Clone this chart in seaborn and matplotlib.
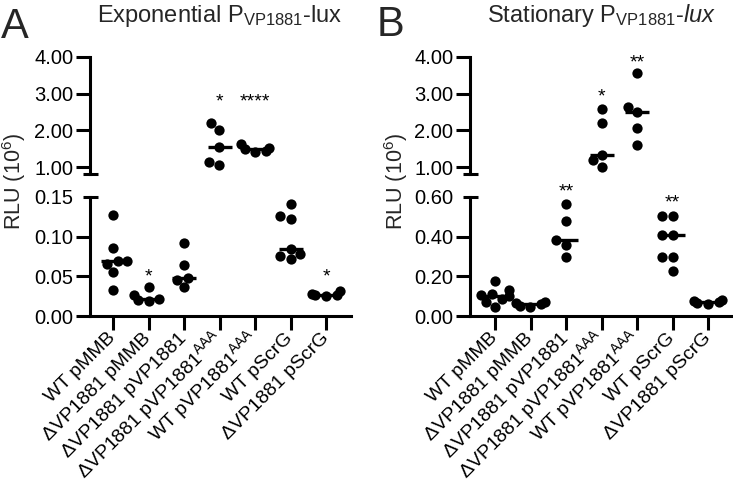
import matplotlib
matplotlib.use("Agg")
import matplotlib.pyplot as plt
import numpy as np
import pandas as pd
import seaborn as sns

# ---------------- data (RLU, units of 10^6) ----------------
categories = ["WT pMMB", "ΔVP1881 pMMB", "ΔVP1881 pVP1881", "ΔVP1881 pVP1881AAA",
              "WT pVP1881AAA", "WT pScrG", "ΔVP1881 pScrG"]
tick_labels = ["WT pMMB", "ΔVP1881 pMMB", "ΔVP1881 pVP1881",
               r"ΔVP1881 pVP1881$^{\mathregular{AAA}}$", r"WT pVP1881$^{\mathregular{AAA}}$",
               "WT pScrG", "ΔVP1881 pScrG"]

# Panel A: exponential phase
exp_wt_pmmb = [0.127, 0.086, 0.069, 0.069, 0.066, 0.055, 0.033]
exp_d_pmmb = [0.036, 0.026, 0.022, 0.020, 0.019]
exp_d_pvp = [0.092, 0.064, 0.048, 0.046, 0.036]
exp_d_paaa = [2.20, 2.02, 1.55, 1.15, 1.06]
exp_wt_paaa = [1.63, 1.52, 1.48, 1.45, 1.41]
exp_wt_pscrg = [0.141, 0.126, 0.122, 0.085, 0.078, 0.076, 0.072]
exp_d_pscrg = [0.031, 0.028, 0.027, 0.026, 0.025]
exp_stars = ["", "*", "", "*", "****", "", "*"]
exp_star_y = [None, 0.049, None, 2.77, 2.77, None, 0.049]

# Panel B: stationary phase
sta_wt_pmmb = [0.175, 0.13, 0.11, 0.105, 0.10, 0.085, 0.07, 0.045]
sta_d_pmmb = [0.07, 0.065, 0.06, 0.05, 0.045]
sta_d_pvp = [0.567, 0.478, 0.382, 0.358, 0.295]
sta_d_paaa = [2.59, 2.21, 1.34, 1.18, 1.00]
sta_wt_paaa = [3.56, 2.64, 2.50, 2.07, 1.61]
sta_wt_pscrg = [0.505, 0.505, 0.41, 0.41, 0.295, 0.295, 0.225]
sta_d_pscrg = [0.08, 0.075, 0.07, 0.065, 0.06]
sta_stars = ["", "", "**", "*", "**", "**", ""]
sta_star_y = [None, None, 0.625, 2.91, 3.84, 0.57, None]

exp_groups = [exp_wt_pmmb, exp_d_pmmb, exp_d_pvp, exp_d_paaa, exp_wt_paaa, exp_wt_pscrg, exp_d_pscrg]
sta_groups = [sta_wt_pmmb, sta_d_pmmb, sta_d_pvp, sta_d_paaa, sta_wt_paaa, sta_wt_pscrg, sta_d_pscrg]

top_ticks = [1.0, 2.0, 3.0, 4.0]
exp_low_ticks = [0.0, 0.05, 0.10, 0.15]
sta_low_ticks = [0.0, 0.20, 0.40, 0.60]


def frame(groups):
    rows = []
    for cat, vals in zip(categories, groups):
        for v in vals:
            rows.append((cat, v))
    return pd.DataFrame(rows, columns=["group", "rlu"])


# ---------------- style ----------------
sns.set_theme(style="ticks")
plt.rcParams["font.family"] = ["Liberation Sans", "DejaVu Sans"]
plt.rcParams["mathtext.fontset"] = "custom"
plt.rcParams["mathtext.rm"] = "Liberation Sans"
plt.rcParams["mathtext.it"] = "Liberation Sans:italic"
plt.rcParams["mathtext.bf"] = "Liberation Sans:bold"
plt.rcParams["axes.unicode_minus"] = False

W, H = 733, 492
fig = plt.figure(figsize=(W / 100, H / 100), dpi=100)
LW = 2.2
TICKLEN = 10


def px_axes(x0, y_top, w, h):
    return fig.add_axes([x0 / W, 1 - (y_top + h) / H, w / W, h / H])


def draw_panel(x0, width, tick0, groups, low_ticks, stars, star_y):
    df = frame(groups)
    low_max = low_ticks[-1]
    df_top = df[df["rlu"] > low_max]
    df_low = df[df["rlu"] <= low_max]
    spacing = 35.5
    xl = -(tick0 - x0) / spacing
    xr = xl + width / spacing

    ax_top = px_axes(x0, 57, width, 117)
    ax_low = px_axes(x0, 197, width, 119)

    for ax, d in ((ax_top, df_top), (ax_low, df_low)):
        sns.swarmplot(data=d, x="group", y="rlu", order=categories, color="black",
                      size=7.4, linewidth=0, ax=ax, zorder=3)
        sns.pointplot(data=d, x="group", y="rlu", order=categories, estimator="median",
                      errorbar=None, color="black", linestyle="none", marker="_",
                      markersize=17, markeredgewidth=2.4, ax=ax, zorder=4)
        ax.set_xlim(xl, xr)
        ax.set_xlabel("")
        ax.set_ylabel("")
        for s in ("top", "right"):
            ax.spines[s].set_visible(False)
        for s in ("left", "bottom"):
            ax.spines[s].set_linewidth(LW)
            ax.spines[s].set_color("black")
        ax.tick_params(axis="both", length=TICKLEN, width=LW, color="black",
                       labelcolor="black", pad=2)
        ax.tick_params(axis="y", labelsize=14.5)
        ax.set_facecolor("none")

    # top (broken) axis
    ax_top.set_ylim(0.81, 4.0)
    ax_top.set_yticks(top_ticks)
    ax_top.set_yticklabels([f"{v:.2f}" for v in top_ticks])
    ax_top.spines["bottom"].set_visible(False)
    ax_top.tick_params(axis="x", bottom=False, labelbottom=False)

    # lower axis
    ax_low.set_ylim(0, low_max)
    ax_low.set_yticks(low_ticks)
    ax_low.set_yticklabels([f"{v:.2f}" for v in low_ticks])
    ax_low.get_yaxis().get_major_ticks()[-1].tick1line.set_visible(False)
    ax_low.set_xticks(range(len(categories)))
    ax_low.set_xticklabels(tick_labels, rotation=45, ha="right", va="center",
                           rotation_mode="anchor", fontsize=14)
    ax_low.tick_params(axis="x", pad=4)

    # break caps
    hw = 7.5 / width
    ax_top.plot([-hw, hw], [0, 0], transform=ax_top.transAxes, color="black",
                lw=LW, clip_on=False, solid_capstyle="butt")
    ax_low.plot([-hw, hw], [1, 1], transform=ax_low.transAxes, color="black",
                lw=LW, clip_on=False, solid_capstyle="butt")

    # significance stars
    for i, (s, y) in enumerate(zip(stars, star_y)):
        if not s:
            continue
        ax = ax_top if y > low_max * 1.5 else ax_low
        ax.text(i, y, s, ha="center", va="center", fontsize=14, color="black",
                clip_on=False)
    return ax_top, ax_low


draw_panel(90, 261, 113, exp_groups, exp_low_ticks, exp_stars, exp_star_y)
draw_panel(470, 262, 495, sta_groups, sta_low_ticks, sta_stars, sta_star_y)

# titles, panel letters, y labels
fig.text(220 / W, 1 - 22 / H, r"Exponential P$_{\mathregular{VP1881}}$-lux",
         ha="center", va="baseline", fontsize=17)
fig.text(602 / W, 1 - 22 / H, r"Stationary P$_{\mathregular{VP1881}}$-$\mathit{lux}$",
         ha="center", va="baseline", fontsize=17)
fig.text(1 / W, 1 - 38 / H, "A", ha="left", va="baseline", fontsize=30)
fig.text(377 / W, 1 - 36 / H, "B", ha="left", va="baseline", fontsize=30)
fig.text(14 / W, 1 - 182 / H, r"RLU (10$^{6}$)", rotation=90, ha="center",
         va="center", fontsize=15.5)
fig.text(396 / W, 1 - 182 / H, r"RLU (10$^{6}$)", rotation=90, ha="center",
         va="center", fontsize=15.5)

fig.savefig("out.png", dpi=100, facecolor="white")
